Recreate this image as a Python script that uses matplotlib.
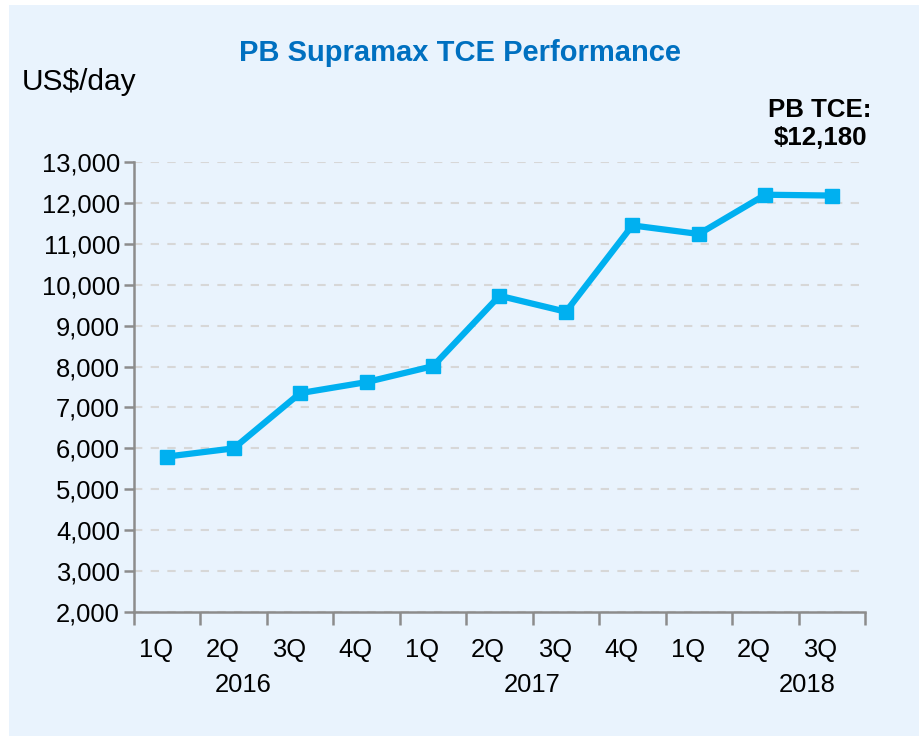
import matplotlib.pyplot as plt
from matplotlib.patches import Rectangle
from matplotlib.ticker import FixedLocator, FuncFormatter

plt.rcParams['font.family'] = ['Liberation Sans', 'DejaVu Sans']

quarters = ["1Q", "2Q", "3Q", "4Q", "1Q", "2Q", "3Q", "4Q", "1Q", "2Q", "3Q"]
tce = [5800, 6000, 7350, 7620, 8010, 9730, 9340, 11450, 11240, 12200, 12180]
years = ["2016", "2017", "2018"]
year_pos = [1.15, 5.49, 9.63]

line_blue = "#00B0F0"
title_blue = "#0070C0"
panel = "#E9F3FD"

fig = plt.figure(figsize=(9.19, 7.36), dpi=100)
fig.patch.set_facecolor("white")
fig.patches.append(Rectangle((9 / 919, 0), 1, 1 - 5 / 736, transform=fig.transFigure,
                             facecolor=panel, edgecolor="none", zorder=-1))

ax = fig.add_axes([134 / 919, 124 / 736, 731 / 919, 450 / 736])
ax.set_facecolor("none")

x = list(range(len(tce)))
ax.plot(x, tce, color=line_blue, lw=4.5, marker="s", markersize=10,
        markeredgecolor=line_blue, zorder=3, clip_on=False)

ax.set_xlim(-0.5, len(tce) - 0.5)
ax.set_ylim(2000, 13000)
ax.set_yticks(range(2000, 13001, 1000))
ax.yaxis.set_major_formatter(FuncFormatter(lambda v, p: f"{int(v):,}"))
ax.grid(axis="y", color="#D7D7D7", ls=(0, (4, 4)), lw=1.5)
ax.set_axisbelow(True)

# quarter labels sit a little left of each category centre in the original
ax.xaxis.set_major_locator(FixedLocator([i - 0.5 for i in range(len(tce) + 1)]))
ax.xaxis.set_minor_locator(FixedLocator([i - 0.17 for i in x]))
ax.set_xticklabels([], minor=False)
ax.set_xticklabels(quarters, minor=True)
ax.tick_params(axis="x", which="major", length=9, width=1.8, color="#8C8C8C")
ax.tick_params(axis="x", which="minor", length=0, pad=19, labelsize=18.4)
ax.tick_params(axis="y", length=7, width=1.8, color="#8C8C8C", labelsize=18.4, pad=3)

for s in ["top", "right"]:
    ax.spines[s].set_visible(False)
for s in ["left", "bottom"]:
    ax.spines[s].set_color("#8C8C8C")
    ax.spines[s].set_linewidth(1.8)

for yr, pos in zip(years, year_pos):
    ax.text(pos, -0.163, yr, transform=ax.get_xaxis_transform(), ha="center",
            va="center", fontsize=18.4)

fig.text(460 / 919, 1 - 53 / 736, "PB Supramax TCE Performance", ha="center",
         va="center", fontsize=21, fontweight="bold", color=title_blue)
fig.text(22 / 919, 1 - 82 / 736, "US$/day", ha="left", va="center", fontsize=21.5)
fig.text(820 / 919, 1 - 124 / 736, "PB TCE:\n$12,180", ha="center", va="center",
         fontsize=18.6, fontweight="bold", linespacing=1.25)

fig.savefig("out.png", dpi=100)
